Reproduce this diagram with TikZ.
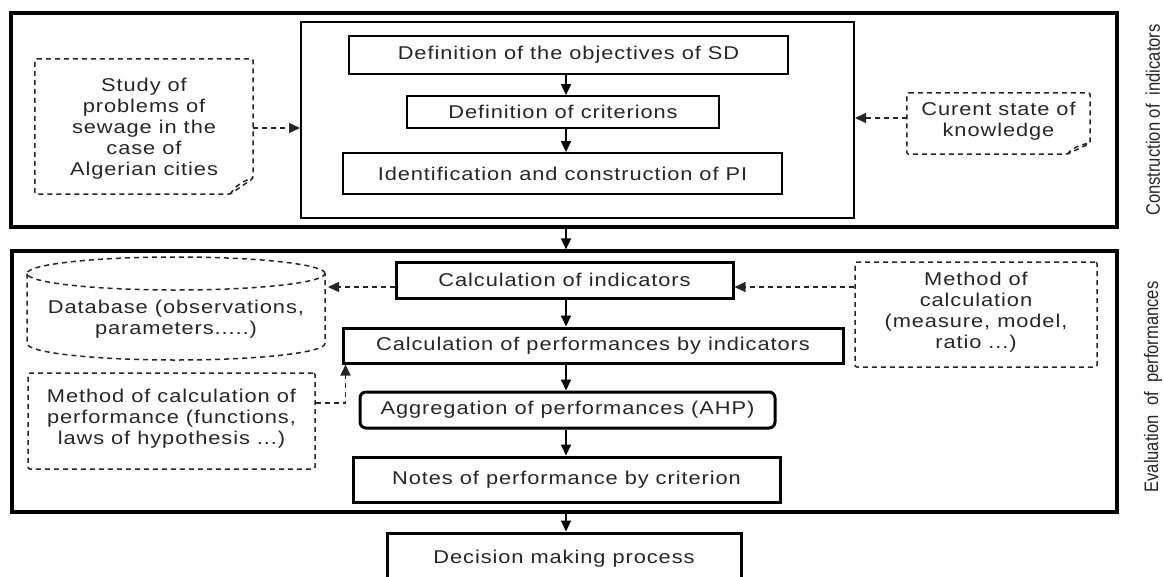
\documentclass[tikz,border=0pt]{standalone}
\usepackage{fontspec}
\setmainfont{Liberation Sans}[FakeStretch=1.18,LetterSpace=5]
\newfontfamily\narrowf{Liberation Sans}[FakeStretch=0.85]
\usetikzlibrary{arrows.meta,calc}
\newcommand{\msz}{\fontsize{18.5pt}{21pt}\selectfont}
\tikzset{
  txt/.style={align=center,font=\msz,inner sep=0pt,text=black!85},
  bigframe/.style={draw,line width=3.2pt,inner sep=0pt},
  innerframe/.style={draw,line width=2pt,inner sep=0pt},
  thinbox/.style={txt,draw,line width=1.8pt},
  thickbox/.style={txt,draw,line width=3pt},
  dsh/.style={line width=1.5pt,dash pattern=on 5pt off 4pt,black!85},
  arr/.style={line width=1.7pt,-{Triangle[length=11pt,width=10pt]}},
  darr/.style={dsh,-{Triangle[length=11pt,width=10pt]}},
  sidelab/.style={font=\narrowf\fontsize{19.5pt}{21pt}\selectfont,rotate=90,inner sep=0pt,text=black!85},
}
\begin{document}
\begin{tikzpicture}[x=1pt,y=-1pt]
\useasboundingbox (0,0) rectangle (1164,576);
% frames
\node[bigframe,minimum width=1106pt,minimum height=214pt] (box1) at (564,120) {};
\node[innerframe,minimum width=553pt,minimum height=196pt] (inner) at (577.5,120) {};
\node[bigframe,minimum width=1105pt,minimum height=261pt] (box2) at (564.5,381.5) {};
% top section
\node[thinbox,minimum width=439pt,minimum height=38pt] (defobj) at (568.5,55) {Definition of the objectives of SD};
\node[thinbox,minimum width=312pt,minimum height=32pt] (defcrit) at (563,112) {Definition of criterions};
\node[thinbox,minimum width=439pt,minimum height=41pt] (ident) at (562.5,173.5) {Identification and construction of PI};
\node[txt,minimum width=218pt,minimum height=135pt] (study) at (144,126.5) {};
\node[txt] (studyt) at (144,129) {Study of\\problems of\\sewage in the\\case of\\Algerian cities};
\node[txt,minimum width=183pt,minimum height=61pt] (curent) at (998.5,123.5) {};
\node[txt] (curentt) at (998.5,121) {Curent state of\\knowledge};
\node[sidelab] (lab1) at (1153,120) {Construction of\ \ indicators};
% note borders
\draw[dsh,rounded corners=2pt] (study.north west) -- (study.north east) -- ([yshift=16pt]study.south east) -- ([xshift=-23pt]study.south east) -- (study.south west) -- cycle;
\draw[dsh] ([xshift=-23pt]study.south east) .. controls ([xshift=-18pt,yshift=8pt]study.south east) and ([xshift=-10pt,yshift=14pt]study.south east) .. ([yshift=16pt]study.south east);
\draw[dsh,rounded corners=2pt] (curent.north west) -- (curent.north east) -- ([yshift=11pt]curent.south east) -- ([xshift=-23pt]curent.south east) -- (curent.south west) -- cycle;
\draw[dsh] ([xshift=-23pt]curent.south east) .. controls ([xshift=-18pt,yshift=6pt]curent.south east) and ([xshift=-10pt,yshift=10pt]curent.south east) .. ([yshift=11pt]curent.south east);
% bottom section
\node[thickbox,minimum width=337pt,minimum height=36pt] (calcind) at (564.5,280) {Calculation of indicators};
\node[thickbox,minimum width=500pt,minimum height=35pt] (calcperf) at (593,345.5) {Calculation of performances by indicators};
\node[thickbox,rounded corners=6pt,minimum width=415pt,minimum height=36pt] (aggr) at (567.5,410) {Aggregation of performances (AHP)};
\node[thickbox,minimum width=427pt,minimum height=45pt] (notes) at (566.5,479.5) {Notes of performance by criterion};
\node[thickbox,minimum width=354pt,minimum height=47pt,text depth=0pt] (decision) at (564,556.5) {Decision making process};
\node[txt,minimum width=298pt,minimum height=50pt] (db) at (176,319.5) {Database (observations,\\parameters.....)};
\node[txt,draw,dsh,text=black!85,rounded corners=2pt,minimum width=287pt,minimum height=96pt] (methperf) at (171.5,421) {};
\node[txt] (methperft) at (171.5,419) {Method of calculation of\\performance (functions,\\laws of hypothesis ...)};
\node[txt,draw,dsh,text=black!85,rounded corners=2pt,minimum width=242pt,minimum height=105pt] (methcalc) at (976,314.5) {};
\node[txt] (methcalct) at (976,312) {Method of\\calculation\\(measure, model,\\ratio ...)};
\node[sidelab] (lab2) at (1153,387) {Evaluation\ \ of\ \ performances};
% cylinder
\draw[dsh] (176,273.5) ellipse [x radius=149pt, y radius=16.5pt];
\draw[dsh] (27,273.5) -- (27,343.5) arc[start angle=180,end angle=360,x radius=149pt,y radius=16.5pt] -- (325,273.5);
% coordinates
\coordinate (ax) at (566,0);
\coordinate (dbE) at (328,287);
\coordinate (y1) at (0,128);
\coordinate (y2) at (0,118);
\coordinate (y3) at (0,287);
\coordinate (y4) at (0,403);
% connectors
\draw[arr] (defobj.south -| ax) -- (defcrit.north -| ax);
\draw[arr] (defcrit.south -| ax) -- (ident.north -| ax);
\draw[arr] (box1.south -| ax) -- (box2.north -| ax);
\draw[arr] (calcind.south -| ax) -- (calcperf.north -| ax);
\draw[arr] (calcperf.south -| ax) -- (aggr.north -| ax);
\draw[arr] (aggr.south -| ax) -- (notes.north -| ax);
\draw[arr] (box2.south -| ax) -- (decision.north -| ax);
\draw[darr] (study.east |- y1) -- (inner.west |- y1);
\draw[darr] (curent.west |- y2) -- (inner.east |- y2);
\draw[darr] (calcind.west |- dbE) -- (dbE);
\draw[darr] (methcalc.west |- y3) -- (calcind.east |- y3);
\draw[darr] (methperf.east |- y4) -| ([xshift=4pt]calcperf.south west);
\end{tikzpicture}
\end{document}
